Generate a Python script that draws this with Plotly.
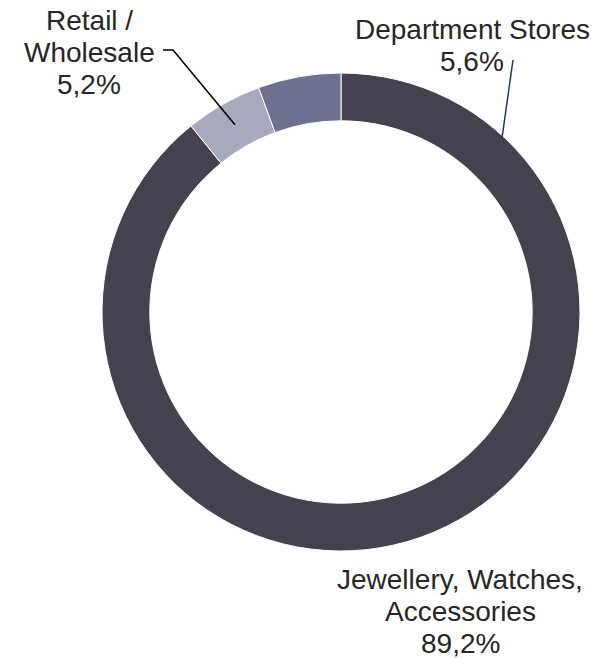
import math
import plotly.graph_objects as go

# Revenue split by segment (clockwise from 12 o'clock)
segments = ["Jewellery, Watches, Accessories", "Retail / Wholesale", "Department Stores"]
shares = [89.2, 5.2, 5.6]
colors = ["#46414F", "#A7A9BC", "#6E7290"]

# Label lines shown next to the ring
label_lines = [
    ["Jewellery, Watches,", "Accessories", "89,2%"],
    ["Retail /", "Wholesale", "5,2%"],
    ["Department Stores", "5,6%"],
]

W, H = 607, 658
CX, CY, R_OUT = 341, 312, 239   # ring centre/radius in page pixels
HOLE = 0.8
FONT = "Liberation Sans, Arial, sans-serif"
TEXT_COLOR = "#262626"
FS = 28
LINE_GAP = 32

fig = go.Figure(
    go.Pie(
        labels=segments,
        values=shares,
        sort=False,
        direction="clockwise",
        rotation=0,
        hole=HOLE,
        marker=dict(colors=colors, line=dict(color="#FFFFFF", width=1)),
        textinfo="none",
        hoverinfo="label+percent",
        showlegend=False,
        domain=dict(
            x=[(CX - R_OUT) / W, (CX + R_OUT) / W],
            y=[(H - CY - R_OUT) / H, (H - CY + R_OUT) / H],
        ),
    )
)


def px(x, y):
    """Page pixel (top-left origin) -> paper coordinates."""
    return x / W, 1 - y / H


def ring_point(frac, radius):
    """Pixel position on the ring at a cumulative fraction of the total."""
    ang = 2 * math.pi * frac
    return CX + radius * math.sin(ang), CY - radius * math.cos(ang)


# Text blocks: centre x and first baseline (pixels)
label_pos = [(460, 589), (89, 30), (472, 39)]
annotations = []
for lines, (lx, base) in zip(label_lines, label_pos):
    for i, line in enumerate(lines):
        x, y = px(lx, base + i * LINE_GAP - 0.35 * FS)
        annotations.append(dict(
            x=x, y=y, xref="paper", yref="paper", text=line, showarrow=False,
            xanchor="center", yanchor="middle",
            font=dict(family=FONT, size=FS, color=TEXT_COLOR),
        ))

# Leader line for Retail / Wholesale: from label to mid-slice
total = sum(shares)
mid_retail = (shares[0] + shares[1] / 2) / total
rx, ry = ring_point(mid_retail, R_OUT * (1 + HOLE) / 2)
pts = [(163, 50), (173, 50), (rx, ry)]
path = "M " + " L ".join(f"{px(a, b)[0]} {px(a, b)[1]}" for a, b in pts)
shapes = [dict(type="path", path=path, xref="paper", yref="paper",
               line=dict(color="#000000", width=1.5))]

# Leader line for Department Stores
dx0, dy0 = px(513, 60)
dx1, dy1 = px(502, 138)
shapes.append(dict(type="line", x0=dx0, y0=dy0, x1=dx1, y1=dy1,
                   xref="paper", yref="paper",
                   line=dict(color="#1F3864", width=1.5)))

fig.update_layout(
    width=W, height=H,
    margin=dict(l=0, r=0, t=0, b=0),
    paper_bgcolor="white", plot_bgcolor="white",
    annotations=annotations, shapes=shapes,
)

fig.write_html("out.html")
